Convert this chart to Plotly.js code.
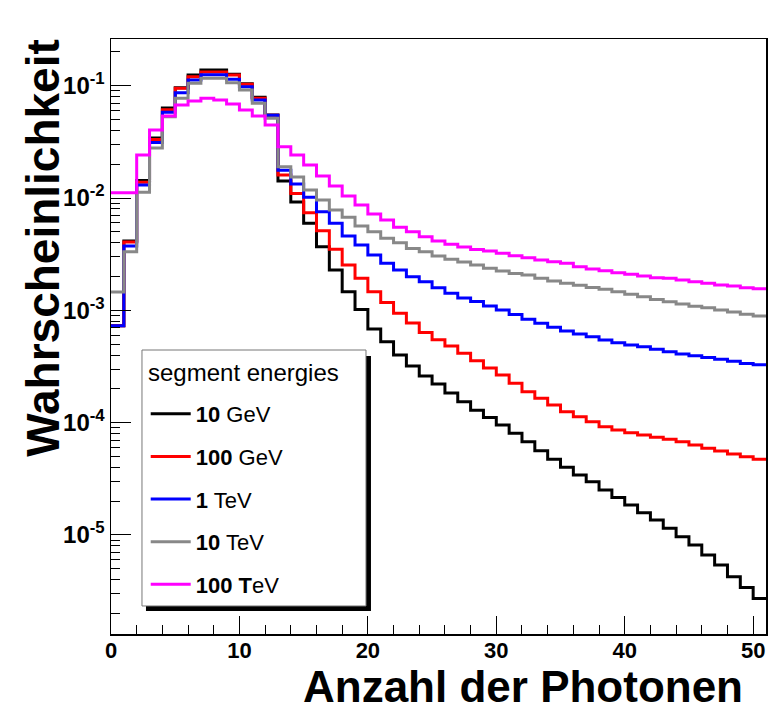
<!DOCTYPE html>
<html><head><meta charset="utf-8">
<script src="https://cdn.plot.ly/plotly-3.0.1.min.js"></script>
<style>html,body{margin:0;padding:0;background:#fff}</style>
</head><body>
<div id="chart" style="width:780px;height:712px"></div>
<script>
// lower bin edges (number of photons), bin width 1, last edge 51
const photonBins = [0,1,2,3,4,5,6,7,8,9,10,11,12,13,14,15,16,17,18,19,20,21,22,23,24,25,26,27,28,29,30,31,32,33,34,35,36,37,38,39,40,41,42,43,44,45,46,47,48,49,50];
const lastEdge = 51;

const legendHeader = "segment energies";
const seriesNames = ["<b>10</b> GeV", "<b>100</b> GeV", "<b>1</b> TeV", "<b>10</b> TeV", "<b>100 T</b>eV"];

const p10GeV = [7.29e-4,4.14e-3,1.43e-2,3.42e-2,0.0633,0.0960,0.1245,0.138,0.138,0.1263,0.1042,0.0788,0.0548,
  0.01416,9.21e-3,5.95e-3,3.68e-3,2.285e-3,1.464e-3,1.016e-3,6.82e-4,5.25e-4,4.0e-4,3.19e-4,2.60e-4,2.21e-4,1.84e-4,
  1.535e-4,1.29e-4,1.11e-4,9.52e-5,8.03e-5,6.76e-5,5.62e-5,4.71e-5,4.0e-5,3.41e-5,2.98e-5,2.51e-5,2.16e-5,1.85e-5,
  1.58e-5,1.36e-5,1.15e-5,9.64e-6,8.13e-6,6.62e-6,5.40e-6,4.25e-6,3.41e-6,2.72e-6];

const p100GeV = [7.29e-4,4.06e-3,0.0138,0.0332,0.0611,0.0948,0.1202,0.1324,0.1324,0.1245,0.1029,0.0772,0.0545,
  0.0160,0.0110,7.40e-3,5.12e-3,3.49e-3,2.53e-3,1.93e-3,1.465e-3,1.173e-3,9.40e-4,7.71e-4,6.34e-4,5.47e-4,4.81e-4,
  4.14e-4,3.55e-4,3.06e-4,2.65e-4,2.24e-4,1.88e-4,1.645e-4,1.435e-4,1.25e-4,1.13e-4,1.02e-4,9.19e-5,8.59e-5,8.13e-5,
  7.76e-5,7.40e-5,7.10e-5,6.76e-5,6.32e-5,5.90e-5,5.58e-5,5.25e-5,4.97e-5,4.71e-5];

const p1TeV = [7.29e-4,3.74e-3,0.01305,0.0312,0.0580,0.0866,0.1124,0.1253,0.1253,0.1140,0.0980,0.0746,0.0545,
  0.01765,0.01332,0.01014,7.55e-3,5.95e-3,4.59e-3,3.82e-3,3.11e-3,2.62e-3,2.285e-3,1.99e-3,1.80e-3,1.59e-3,1.417e-3,
  1.287e-3,1.198e-3,1.092e-3,1.006e-3,9.18e-4,8.32e-4,7.66e-4,7.06e-4,6.54e-4,6.15e-4,5.82e-4,5.44e-4,5.15e-4,4.91e-4,
  4.74e-4,4.50e-4,4.28e-4,4.08e-4,3.94e-4,3.81e-4,3.66e-4,3.52e-4,3.37e-4,3.28e-4];

const p10TeV = [1.455e-3,3.33e-3,0.01124,0.0279,0.0530,0.0772,0.1050,0.1164,0.1164,0.1063,0.0916,0.0697,0.0513,
  0.0190,0.01538,0.01178,9.60e-3,7.82e-3,6.73e-3,5.63e-3,5.01e-3,4.38e-3,4.00e-3,3.56e-3,3.33e-3,3.04e-3,2.85e-3,
  2.69e-3,2.53e-3,2.37e-3,2.24e-3,2.13e-3,2.06e-3,1.93e-3,1.82e-3,1.74e-3,1.67e-3,1.60e-3,1.54e-3,1.465e-3,1.39e-3,
  1.32e-3,1.25e-3,1.19e-3,1.14e-3,1.09e-3,1.055e-3,1.007e-3,9.66e-4,9.21e-4,8.90e-4];

const p100TeV = [0.01115,0.01115,0.0242,0.0403,0.0537,0.0673,0.0731,0.0772,0.0746,0.0687,0.0607,0.0537,0.0447,
  0.0286,0.0242,0.01968,0.0157,0.0128,0.0104,8.66e-3,7.20e-3,6.37e-3,5.48e-3,5.01e-3,4.52e-3,4.14e-3,3.87e-3,
  3.66e-3,3.48e-3,3.37e-3,3.22e-3,3.06e-3,2.94e-3,2.81e-3,2.71e-3,2.62e-3,2.445e-3,2.33e-3,2.25e-3,2.16e-3,2.10e-3,
  2.02e-3,1.95e-3,1.93e-3,1.86e-3,1.80e-3,1.74e-3,1.68e-3,1.645e-3,1.59e-3,1.56e-3];

const yTickVals = [1e-5,1e-4,1e-3,1e-2,1e-1];
const yTickText = ["10<sup>-5</sup>","10<sup>-4</sup>","10<sup>-3</sup>","10<sup>-2</sup>","10<sup>-1</sup>"];
const xTickVals = [0,10,20,30,40,50];

const seriesValues = [p10GeV, p100GeV, p1TeV, p10TeV, p100TeV];
const seriesColors = ["#000000","#ff0000","#0000ff","#888888","#ff00ff"];

const FONT = "Liberation Sans, Arial, Helvetica, sans-serif";

const traces = seriesValues.map((vals, k) => ({
  type: "scatter",
  mode: "lines",
  name: seriesNames[k],
  legendgroup: "g" + k,
  x: photonBins.concat([lastEdge]),
  y: vals.concat([vals[vals.length - 1]]),
  line: {shape: "hv", color: seriesColors[k], width: 3},
  hoverinfo: "x+y"
}));

// minor tick positions on the log axis (2..9 within each decade)
const minorY = [];
[-6,-5,-4,-3,-2,-1].forEach(d => { for (let m = 2; m <= 9; m++) minorY.push(m * Math.pow(10, d)); });

const layout = {
  width: 780, height: 712,
  margin: {l: 111, r: 14, t: 39, b: 78},
  paper_bgcolor: "#ffffff", plot_bgcolor: "#ffffff",
  showlegend: true,
  font: {family: FONT, color: "#000"},
  xaxis: {
    range: [0, 51], showgrid: false, zeroline: false,
    showline: true, linecolor: "#000", linewidth: 1.5, mirror: true,
    ticks: "inside", ticklen: 18, tickwidth: 1, tickcolor: "#000",
    tickmode: "array", tickvals: xTickVals, ticklabelstandoff: -4,
    tickfont: {family: FONT, size: 22, weight: "bold", color: "#000"},
    minor: {dtick: 2, ticks: "inside", ticklen: 9, tickwidth: 1, tickcolor: "#000", showgrid: false}
  },
  yaxis: {
    type: "log", range: [-5.882, -0.584], showgrid: false, zeroline: false,
    showline: true, linecolor: "#000", linewidth: 1.5, mirror: true,
    ticks: "inside", ticklen: 20, tickwidth: 1, tickcolor: "#000",
    tickmode: "array", tickvals: yTickVals, ticktext: yTickText,
    tickfont: {family: FONT, size: 24, weight: "bold", color: "#000"},
    minor: {tickmode: "array", tickvals: minorY, ticks: "inside", ticklen: 9, tickwidth: 1, tickcolor: "#000", showgrid: false}
  },
  legend: {
    x: 0.053, xanchor: "left", y: 0.405, yanchor: "top",
    bgcolor: "rgba(0,0,0,0)", borderwidth: 0,
    font: {family: FONT, size: 22, color: "#000"},
    tracegroupgap: 11, itemwidth: 40
  },
  shapes: [
    {type: "rect", xref: "paper", yref: "paper", layer: "above",
     x0: 0.0534, x1: 0.3969, y0: 0.0387, y1: 0.4672,
     fillcolor: "#000", line: {width: 0}},
    {type: "rect", xref: "paper", yref: "paper", layer: "above",
     x0: 0.0473, x1: 0.3893, y0: 0.0471, y1: 0.4773,
     fillcolor: "#fff", line: {width: 1, color: "#777"}}
  ],
  annotations: [
    {text: legendHeader, xref: "paper", yref: "paper",
     x: 0.054, y: 0.440, xanchor: "left", yanchor: "middle", showarrow: false,
     font: {family: FONT, size: 24, color: "#000"}},
    {text: "<b>Anzahl der Photonen</b>", xref: "paper", yref: "paper",
     x: 0.968, y: -0.0885, xanchor: "right", yanchor: "middle", showarrow: false,
     font: {family: FONT, size: 44, color: "#000"}},
    {text: "<b>Wahrscheinlichkeit</b>", xref: "paper", yref: "paper", textangle: -90,
     x: -0.103, y: 1.003, xanchor: "center", yanchor: "top", showarrow: false,
     font: {family: FONT, size: 46, color: "#000"}}
  ]
};

Plotly.newPlot("chart", traces, layout, {displayModeBar: false, staticPlot: true});
</script>
</body></html>
